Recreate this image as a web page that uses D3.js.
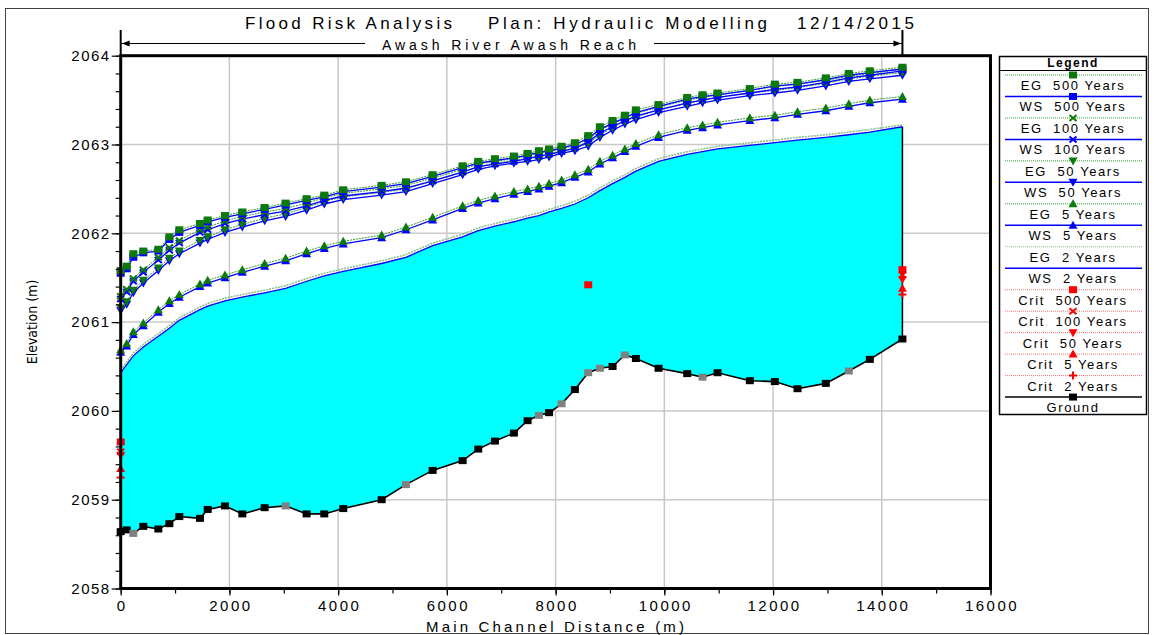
<!DOCTYPE html>
<html>
<head>
<meta charset="utf-8">
<script src="https://cdn.jsdelivr.net/npm/d3@7"></script>
<style>
  body { margin: 0; background: #fff; }
  svg { display: block; font-family: Arial, "Liberation Sans", sans-serif; }
  text { white-space: pre; }
</style>
</head>
<body>
<svg id="chart" width="1154" height="635"></svg>
<script>
/* --- Data --- */

// river stations (main channel distance, m)
const stations = [0, 110, 232, 416, 692, 895, 1078, 1458, 1600, 1918,
    2237, 2648, 3034, 3420, 3745, 4094, 4800, 5247, 5738, 6290,
    6577, 6884, 7233, 7485, 7693, 7880, 8110, 8355, 8600, 8815,
    9048, 9274, 9477, 9894, 10421, 10703, 10979, 11573, 12033, 12450,
    12971, 13394, 13780, 14380];

const ground = [2058.64, 2058.66, 2058.62, 2058.70, 2058.67, 2058.73, 2058.81, 2058.79, 2058.89, 2058.93,
    2058.84, 2058.91, 2058.93, 2058.84, 2058.84, 2058.90, 2059.00, 2059.17, 2059.33, 2059.44,
    2059.57, 2059.66, 2059.75, 2059.89, 2059.95, 2059.98, 2060.08, 2060.24, 2060.43, 2060.48,
    2060.50, 2060.63, 2060.59, 2060.48, 2060.42, 2060.38, 2060.43, 2060.34, 2060.33, 2060.25,
    2060.31, 2060.45, 2060.58, 2060.81];

// stations whose ground marker is drawn grey
const groundGray = [232, 3034, 5247, 7693, 8110, 8600, 8815, 9274, 10703, 13394];

const ws2 = [2060.43, 2060.52, 2060.62, 2060.72, 2060.84, 2060.93, 2061.02, 2061.14, 2061.18, 2061.24,
    2061.28, 2061.33, 2061.38, 2061.46, 2061.52, 2061.57, 2061.66, 2061.73, 2061.86, 2061.96,
    2062.03, 2062.08, 2062.13, 2062.17, 2062.20, 2062.24, 2062.28, 2062.33, 2062.40, 2062.48,
    2062.56, 2062.63, 2062.70, 2062.81, 2062.89, 2062.92, 2062.95, 2062.99, 2063.02, 2063.05,
    2063.08, 2063.11, 2063.14, 2063.20];
const eg2 = [2060.46, 2060.55, 2060.65, 2060.75, 2060.87, 2060.96, 2061.05, 2061.17, 2061.21, 2061.27,
    2061.31, 2061.36, 2061.41, 2061.49, 2061.55, 2061.60, 2061.69, 2061.76, 2061.89, 2061.99,
    2062.06, 2062.11, 2062.16, 2062.20, 2062.23, 2062.27, 2062.31, 2062.36, 2062.43, 2062.51,
    2062.59, 2062.66, 2062.73, 2062.84, 2062.92, 2062.95, 2062.98, 2063.02, 2063.05, 2063.08,
    2063.11, 2063.14, 2063.17, 2063.22];

const ws5 = [2060.66, 2060.73, 2060.86, 2060.96, 2061.11, 2061.21, 2061.28, 2061.40, 2061.44, 2061.50,
    2061.56, 2061.63, 2061.69, 2061.77, 2061.83, 2061.88, 2061.95, 2062.04, 2062.15, 2062.28,
    2062.34, 2062.39, 2062.44, 2062.47, 2062.50, 2062.53, 2062.57, 2062.63, 2062.69, 2062.78,
    2062.85, 2062.92, 2062.98, 2063.08, 2063.16, 2063.19, 2063.22, 2063.27, 2063.30, 2063.34,
    2063.38, 2063.43, 2063.47, 2063.51];
const eg5 = [2060.69, 2060.76, 2060.89, 2060.99, 2061.14, 2061.24, 2061.31, 2061.43, 2061.47, 2061.53,
    2061.59, 2061.66, 2061.72, 2061.80, 2061.86, 2061.91, 2061.98, 2062.07, 2062.18, 2062.31,
    2062.37, 2062.42, 2062.47, 2062.50, 2062.53, 2062.56, 2062.60, 2062.66, 2062.72, 2062.81,
    2062.88, 2062.95, 2063.01, 2063.11, 2063.19, 2063.22, 2063.25, 2063.30, 2063.33, 2063.37,
    2063.41, 2063.46, 2063.50, 2063.54];

const ws50 = [2061.13, 2061.20, 2061.33, 2061.44, 2061.58, 2061.69, 2061.77, 2061.89, 2061.93, 2062.01,
    2062.07, 2062.14, 2062.19, 2062.26, 2062.33, 2062.38, 2062.43, 2062.47, 2062.56, 2062.66,
    2062.72, 2062.76, 2062.79, 2062.81, 2062.83, 2062.86, 2062.90, 2062.93, 2062.98, 2063.08,
    2063.16, 2063.23, 2063.28, 2063.36, 2063.43, 2063.47, 2063.50, 2063.55, 2063.58, 2063.61,
    2063.66, 2063.71, 2063.74, 2063.78];
const eg50 = [2061.16, 2061.23, 2061.36, 2061.47, 2061.61, 2061.72, 2061.80, 2061.92, 2061.96, 2062.04,
    2062.10, 2062.17, 2062.22, 2062.29, 2062.36, 2062.41, 2062.46, 2062.50, 2062.59, 2062.69,
    2062.75, 2062.79, 2062.82, 2062.84, 2062.86, 2062.89, 2062.93, 2062.96, 2063.01, 2063.11,
    2063.19, 2063.26, 2063.31, 2063.39, 2063.46, 2063.50, 2063.53, 2063.58, 2063.61, 2063.64,
    2063.69, 2063.74, 2063.77, 2063.81];

const ws100 = [2061.26, 2061.34, 2061.46, 2061.56, 2061.70, 2061.81, 2061.89, 2062.01, 2062.04, 2062.11,
    2062.16, 2062.21, 2062.25, 2062.31, 2062.37, 2062.42, 2062.47, 2062.51, 2062.59, 2062.69,
    2062.75, 2062.78, 2062.81, 2062.84, 2062.87, 2062.89, 2062.92, 2062.96, 2063.03, 2063.13,
    2063.20, 2063.27, 2063.32, 2063.39, 2063.47, 2063.50, 2063.53, 2063.58, 2063.62, 2063.65,
    2063.70, 2063.75, 2063.78, 2063.83];
const eg100 = [2061.29, 2061.37, 2061.49, 2061.59, 2061.73, 2061.84, 2061.92, 2062.04, 2062.07, 2062.14,
    2062.19, 2062.24, 2062.28, 2062.34, 2062.40, 2062.45, 2062.50, 2062.54, 2062.62, 2062.72,
    2062.78, 2062.81, 2062.84, 2062.87, 2062.90, 2062.92, 2062.95, 2062.99, 2063.06, 2063.16,
    2063.23, 2063.30, 2063.35, 2063.42, 2063.50, 2063.53, 2063.56, 2063.61, 2063.65, 2063.68,
    2063.72, 2063.77, 2063.80, 2063.85];

const ws500 = [2061.55, 2061.60, 2061.73, 2061.78, 2061.80, 2061.93, 2062.01, 2062.09, 2062.13, 2062.18,
    2062.22, 2062.27, 2062.32, 2062.37, 2062.41, 2062.47, 2062.52, 2062.56, 2062.64, 2062.74,
    2062.79, 2062.82, 2062.85, 2062.88, 2062.91, 2062.93, 2062.96, 2063.00, 2063.07, 2063.17,
    2063.24, 2063.30, 2063.36, 2063.43, 2063.51, 2063.54, 2063.56, 2063.61, 2063.66, 2063.68,
    2063.73, 2063.78, 2063.81, 2063.85];
const eg500 = [2061.58, 2061.63, 2061.77, 2061.80, 2061.82, 2061.96, 2062.04, 2062.11, 2062.15, 2062.20,
    2062.24, 2062.29, 2062.34, 2062.39, 2062.43, 2062.49, 2062.54, 2062.58, 2062.66, 2062.76,
    2062.81, 2062.84, 2062.87, 2062.90, 2062.93, 2062.95, 2062.98, 2063.02, 2063.10, 2063.20,
    2063.27, 2063.33, 2063.39, 2063.45, 2063.53, 2063.56, 2063.58, 2063.63, 2063.68, 2063.70,
    2063.75, 2063.80, 2063.83, 2063.87];

// critical depth only computed at a few stations
const critStations500 = [0, 8600, 14380];
const crit500 = [2059.65, 2061.42, 2061.59];
const critStations = [0, 14380];
const crit100 = [2059.54, 2061.53];
const crit50 = [2059.50, 2061.48];
const crit5 = [2059.35, 2061.38];
const crit2 = [2059.25, 2061.31];

// axis ticks
const xTicks = [0, 2000, 4000, 6000, 8000, 10000, 12000, 14000, 16000];
const yTicks = [2058, 2059, 2060, 2061, 2062, 2063, 2064];

/* --- Styles --- */
const GREEN = "#0b7a0b", BLUE = "#0000ff", RED = "#ff0000";
const lineStyles = {
    eg:     { stroke: "#3a9a3a", width: 1, dash: "2,1" },
    eg2:    { stroke: "#8cbf8c", width: 1.6, dash: "2,1" },
    ws:     { stroke: BLUE, width: 1.3, dash: null },
    crit:   { stroke: "#ff7070", width: 1, dash: "2,2" },
    ground: { stroke: "#000", width: 1.6, dash: null }
};

// legend order (drawn in reverse so EG 500 ends up on top)
const series = [
    { label: "EG  500 Years",   xs: stations, ys: eg500,  line: "eg",  color: GREEN, marker: "square" },
    { label: "WS  500 Years",   xs: stations, ys: ws500,  line: "ws",  color: BLUE,  marker: "square" },
    { label: "EG  100 Years",   xs: stations, ys: eg100,  line: "eg",  color: GREEN, marker: "x" },
    { label: "WS  100 Years",   xs: stations, ys: ws100,  line: "ws",  color: BLUE,  marker: "x" },
    { label: "EG  50 Years",    xs: stations, ys: eg50,   line: "eg",  color: GREEN, marker: "down" },
    { label: "WS  50 Years",    xs: stations, ys: ws50,   line: "ws",  color: BLUE,  marker: "down" },
    { label: "EG  5 Years",     xs: stations, ys: eg5,    line: "eg",  color: GREEN, marker: "up" },
    { label: "WS  5 Years",     xs: stations, ys: ws5,    line: "ws",  color: BLUE,  marker: "up" },
    { label: "EG  2 Years",     xs: stations, ys: eg2,    line: "eg2", color: GREEN, marker: null },
    { label: "WS  2 Years",     xs: stations, ys: ws2,    line: "ws",  color: BLUE,  marker: null },
    { label: "Crit  500 Years", xs: critStations500, ys: crit500, line: "crit", color: RED, marker: "square", noLine: true },
    { label: "Crit  100 Years", xs: critStations, ys: crit100, line: "crit", color: RED, marker: "x", noLine: true },
    { label: "Crit  50 Years",  xs: critStations, ys: crit50,  line: "crit", color: RED, marker: "down", noLine: true },
    { label: "Crit  5 Years",   xs: critStations, ys: crit5,   line: "crit", color: RED, marker: "up", noLine: true },
    { label: "Crit  2 Years",   xs: critStations, ys: crit2,   line: "crit", color: RED, marker: "plus", noLine: true },
    { label: "Ground",          xs: stations, ys: ground, line: "ground", color: "#000", marker: "square" }
];

const markerPaths = {
    square: "M-4,-3.5h8v7h-8z",
    up: "M0,-4.5L4.5,3.5L-4.5,3.5Z",
    down: "M0,4.5L4.5,-3.5L-4.5,-3.5Z",
    x: "M-3.5,-3,L3.5,3M3.5,-3L-3.5,3",
    plus: "M-4,0H4M0,-4V4"
};

function drawMarker(g, type, color, cx, cy) {
    const stroked = type === "x" || type === "plus";
    g.append("path")
        .attr("d", markerPaths[type])
        .attr("transform", `translate(${cx},${cy})`)
        .attr("fill", stroked ? "none" : color)
        .attr("stroke", stroked ? color : "none")
        .attr("stroke-width", stroked ? 2 : 0);
}

/* --- Chart --- */
const svg = d3.select("#chart");

svg.append("rect").attr("width", 1154).attr("height", 635).attr("fill", "#fff");
svg.append("rect")
    .attr("x", 5.5).attr("y", 8.5).attr("width", 1143).attr("height", 625)
    .attr("fill", "none").attr("stroke", "#444");

const x = d3.scaleLinear().domain([0, 16000]).range([120.7, 990.5]);
const y = d3.scaleLinear().domain([2058, 2064]).range([588.5, 55.7]);
const [x0, x1] = x.range();
const [yb, yt] = y.range();

// grid
svg.append("g").selectAll("line")
    .data(xTicks.slice(1, -1)).join("line")
    .attr("x1", d => x(d)).attr("x2", d => x(d))
    .attr("y1", yt).attr("y2", yb)
    .attr("stroke", "#c8c8c8").attr("stroke-width", 1.5);
svg.append("g").selectAll("line")
    .data(yTicks.slice(1, -1)).join("line")
    .attr("x1", x0).attr("x2", x1)
    .attr("y1", d => y(d)).attr("y2", d => y(d))
    .attr("stroke", "#c8c8c8").attr("stroke-width", 1.5);

// water fill between ground and the 2 year water surface
const area = d3.area()
    .x((d, i) => x(stations[i]))
    .y0((d, i) => y(ground[i]))
    .y1(d => y(d));
svg.append("path").datum(ws2).attr("d", area).attr("fill", "#00ffff");

// closing line at the upstream end
const last = stations.length - 1;
svg.append("line")
    .attr("x1", x(stations[last])).attr("x2", x(stations[last]))
    .attr("y1", y(ws2[last])).attr("y2", y(ground[last]))
    .attr("stroke", "#000").attr("stroke-width", 1.5);

// series, bottom of legend first
series.slice().reverse().forEach(s => {
    const st = lineStyles[s.line];
    const g = svg.append("g");
    if (!s.noLine) {
        const line = d3.line().x((d, i) => x(s.xs[i])).y(d => y(d));
        g.append("path").datum(s.ys)
            .attr("d", line)
            .attr("fill", "none")
            .attr("stroke", st.stroke)
            .attr("stroke-width", st.width)
            .attr("stroke-dasharray", st.dash);
    }
    if (s.marker) {
        s.ys.forEach((v, i) => {
            let c = s.color;
            if (s.line === "ground" && groundGray.includes(s.xs[i])) c = "#808080";
            drawMarker(g, s.marker, c, x(s.xs[i]), y(v));
        });
    }
});

// plot frame
svg.append("rect")
    .attr("x", x0).attr("y", yt).attr("width", x1 - x0).attr("height", yb - yt)
    .attr("fill", "none").attr("stroke", "#000").attr("stroke-width", 3);

// axes
const xAxis = svg.append("g").attr("transform", `translate(0,${yb + 1})`)
    .call(d3.axisBottom(x).tickValues(xTicks).tickSize(6).tickFormat(d3.format("d")));
svg.append("g").attr("transform", `translate(0,${yb + 1})`)
    .call(d3.axisBottom(x).ticks(16).tickSize(4).tickFormat(""));
const yAxis = svg.append("g").attr("transform", `translate(${x0 - 1},0)`)
    .call(d3.axisLeft(y).tickValues(yTicks).tickSize(8).tickFormat(d3.format("d")));
svg.append("g").attr("transform", `translate(${x0 - 1},0)`)
    .call(d3.axisLeft(y).ticks(30).tickSize(4).tickFormat(""));

svg.selectAll(".domain").remove();
svg.selectAll(".tick line").attr("stroke", "#000").attr("stroke-width", 1.2);
xAxis.selectAll("text").attr("font-size", 15).attr("letter-spacing", "2.5px")
    .attr("fill", "#000").attr("dy", "0.85em").attr("dx", "1px").attr("font-family", null);
yAxis.selectAll("text").attr("font-size", 15).attr("letter-spacing", "1.5px")
    .attr("fill", "#000").attr("x", -9).attr("font-family", null);

// axis titles
svg.append("text")
    .attr("x", 555).attr("y", 632)
    .attr("text-anchor", "middle").attr("font-size", 15)
    .attr("textLength", 258).attr("lengthAdjust", "spacing")
    .text("Main Channel Distance (m)");
svg.append("text")
    .attr("transform", "translate(37,322) rotate(-90)")
    .attr("text-anchor", "middle").attr("font-size", 14)
    .attr("font-family", "'Liberation Sans Narrow', 'DejaVu Sans Condensed', Arial, sans-serif")
    .text("Elevation (m)");

// title pieces
const titleParts = [
    { t: "Flood Risk Analysis", x: 245, w: 207 },
    { t: "Plan: Hydraulic Modelling", x: 488, w: 279 },
    { t: "12/14/2015", x: 797, w: 117 }
];
svg.append("g").selectAll("text").data(titleParts).join("text")
    .attr("x", d => d.x).attr("y", 29)
    .attr("font-size", 17)
    .attr("textLength", d => d.w).attr("lengthAdjust", "spacing")
    .text(d => d.t);

// reach marker
const reachEnd = x(stations[last]);
svg.append("text")
    .attr("x", 509).attr("y", 50).attr("text-anchor", "middle")
    .attr("font-size", 14).attr("textLength", 254).attr("lengthAdjust", "spacing")
    .text("Awash River Awash Reach");
const aY = 43.5;
svg.append("line").attr("x1", x0).attr("x2", 365).attr("y1", aY).attr("y2", aY).attr("stroke", "#000");
svg.append("line").attr("x1", 654).attr("x2", reachEnd).attr("y1", aY).attr("y2", aY).attr("stroke", "#000");
svg.append("path").attr("d", `M${x0 + 1},${aY}l8,-3v6z`).attr("fill", "#000");
svg.append("path").attr("d", `M${reachEnd - 1},${aY}l-8,-3v6z`).attr("fill", "#000");
[x0, reachEnd].forEach(px => {
    svg.append("line").attr("x1", px).attr("x2", px).attr("y1", 30).attr("y2", yt)
        .attr("stroke", "#000").attr("stroke-width", 2);
});

/* --- Legend --- */
const lg = svg.append("g");
lg.append("rect")
    .attr("x", 999.5).attr("y", 56.5).attr("width", 147).attr("height", 358)
    .attr("fill", "#fff").attr("stroke", "#000").attr("stroke-width", 1.5);
lg.append("text")
    .attr("x", 1073).attr("y", 67).attr("text-anchor", "middle")
    .attr("font-size", 12).attr("font-weight", "bold").attr("letter-spacing", "1.5px")
    .text("Legend");
lg.append("line").attr("x1", 1000).attr("x2", 1146).attr("y1", 70.5).attr("y2", 70.5)
    .attr("stroke", "#000");

const lx1 = 1005, lx2 = 1142, lcx = 1073;
series.forEach((s, i) => {
    const ly = 75 + i * 21.47;
    const st = lineStyles[s.line];
    lg.append("line")
        .attr("x1", lx1).attr("x2", lx2).attr("y1", ly).attr("y2", ly)
        .attr("stroke", s.line === "eg" ? "#2aa02a" : st.stroke)
        .attr("stroke-width", s.line === "ws" || s.line === "ground" ? 1.5 : 1)
        .attr("stroke-dasharray", st.dash ? "1,1" : null);
    if (s.marker) drawMarker(lg, s.marker, s.color, lcx, ly);
    lg.append("text")
        .attr("x", lcx).attr("y", ly + 15).attr("text-anchor", "middle")
        .attr("font-size", 13).attr("letter-spacing", "1.6px")
        .text(s.label);
});
</script>
</body>
</html>
